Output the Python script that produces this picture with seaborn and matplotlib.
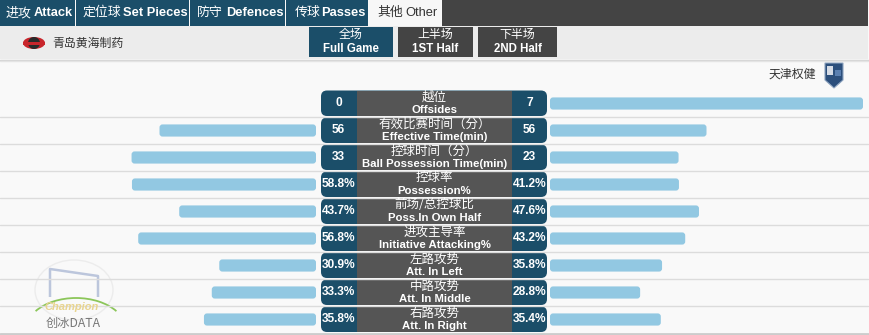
import numpy as np
import pandas as pd
import seaborn as sns
import matplotlib
matplotlib.use("Agg")
import matplotlib.pyplot as plt
from matplotlib.patches import Rectangle, FancyBboxPatch, Ellipse, Polygon, Arc

# ---------------- data ----------------
tabs_cn = ["进攻", "定位球", "防守", "传球", "其他"]
tabs_en = ["Attack", "Set Pieces", "Defences", "Passes", "Other"]
periods_cn = ["全场", "上半场", "下半场"]
periods_en = ["Full Game", "1ST Half", "2ND Half"]
home_team = "青岛黄海制药"
away_team = "天津权健"
metrics_cn = ["越位", "有效比赛时间（分）", "控球时间（分）", "控球率", "前场/总控球比",
              "进攻主导率", "左路攻势", "中路攻势", "右路攻势"]
metrics_en = ["Offsides", "Effective Time(min)", "Ball Possession Time(min)", "Possession%",
              "Poss.In Own Half", "Initiative Attacking%", "Att. In Left", "Att. In Middle",
              "Att. In Right"]
home_vals = [0, 56, 33, 58.8, 43.7, 56.8, 30.9, 33.3, 35.8]
away_vals = [7, 56, 23, 41.2, 47.6, 43.2, 35.8, 28.8, 35.4]
is_pct = [False, False, False, True, True, True, True, True, True]

# ---------------- styling ----------------
sns.set_theme(style="white")
plt.rcParams["font.family"] = ["Liberation Sans", "Noto Sans CJK SC", "DejaVu Sans"]
CJK = ["Noto Sans CJK SC", "DejaVu Sans"]
LAT = ["Liberation Sans", "Noto Sans CJK SC"]

TEAL = "#1b4e69"
DGREY = "#444444"
MGREY = "#555555"
BAR = "#92c8e2"
W, H = 870, 335

fig = plt.figure(figsize=(W / 100, H / 100), dpi=100)
fig.patch.set_facecolor("#f9f9f9")
bg = fig.add_axes([0, 0, 1, 1])
bg.set_xlim(0, W)
bg.set_ylim(H, 0)
bg.axis("off")
bg.set_zorder(0)


def rect(x0, y0, x1, y1, color, **kw):
    bg.add_patch(Rectangle((x0, y0), x1 - x0, y1 - y0, facecolor=color, edgecolor="none", **kw))


# main background
rect(0, 60, 868, 333, "#f9f9f9")
# header tabs
tab_edges = [0, 76, 190, 286, 369, 442]
tab_cn_x = [6, 83, 197, 295, 377]
tab_en_x = [34, 123, 226, 321, 405]
for i in range(5):
    active = i == 4
    rect(tab_edges[i], 0, tab_edges[i + 1] - 1, 26, "#f7f7f7" if active else TEAL)
    col = "#333333" if active else "white"
    bg.text(tab_cn_x[i], 12.5, tabs_cn[i], family=CJK, fontsize=9.3, color=col, va="center", ha="left")
    bg.text(tab_en_x[i], 12.5, tabs_en[i], family=LAT, fontsize=9.3, color=col, va="center", ha="left",
            fontweight="normal" if active else "bold")
rect(442, 0, 868, 26, DGREY)
# second row
rect(0, 26, 868, 59, "#ececec")
bg.plot([0, 868], [59.5, 59.5], color="#d4d4d4", lw=1)
btn = [(309, 393, TEAL), (398, 473, DGREY), (478, 557, DGREY)]
for (x0, x1, c), cn, en in zip(btn, periods_cn, periods_en):
    rect(x0, 27, x1, 57, c)
    xc = (x0 + x1) / 2
    bg.text(xc, 34.5, cn, family=CJK, fontsize=8.6, color="white", ha="center", va="center")
    bg.text(xc, 48.5, en, family=LAT, fontsize=8.3, color="white", ha="center", va="center", fontweight="bold")

# home logo & name
bg.add_patch(Ellipse((34, 43), 22, 12, facecolor="#c8252b", edgecolor="none"))
bg.add_patch(Ellipse((34, 43), 12, 12, facecolor="#2a2a2a", edgecolor="none"))
bg.add_patch(Rectangle((23, 41.5), 22, 3, facecolor="#c8252b", edgecolor="none"))
bg.text(52, 43, home_team, family=CJK, fontsize=8.6, color="#333333", va="center", ha="left")
# away name & logo
bg.text(816, 74, away_team, family=CJK, fontsize=8.6, color="#333333", va="center", ha="right")
bg.add_patch(Polygon([[825, 63], [843, 63], [843, 80], [834, 88], [825, 80]], closed=True,
                     facecolor="#2c4f7c", edgecolor="#8ea4c0", lw=0.8))
bg.add_patch(Rectangle((827, 66), 6, 9, facecolor="#d6dce6", edgecolor="none"))
bg.add_patch(Rectangle((835, 70), 6, 6, facecolor="#5a7fb0", edgecolor="none"))

# watermark
bg.add_patch(Ellipse((74, 290), 78, 60, facecolor="none", edgecolor="#ececec", lw=1))
bg.plot([50, 50, 98, 98], [297, 269, 276, 297], color="#bcc6dc", lw=1.8, solid_capstyle="butt")
bg.add_patch(Arc((76, 330), 100, 64, theta1=205, theta2=335, color="#8cc65a", lw=1.3))
bg.text(72, 307, "Champion", family=LAT, fontsize=8, color="#e8d48f", style="italic",
        fontweight="bold", ha="center", va="center")
bg.text(73, 323, "创冰DATA", family=["Noto Sans CJK SC"], fontsize=8.8, color="#777777",
        ha="center", va="center")

# row separators
ROW0, RH, N = 90, 27, len(metrics_en)
bg.plot([0, 868], [60.5, 60.5], color="#e4e4e4", lw=1)
for i in range(1, N):
    y = ROW0 + RH * i - 0.5
    bg.plot([0, 868], [y, y], color="#dcdcdc", lw=1)
bg.plot([0, 870], [333.5, 333.5], color="#cccccc", lw=2)


def fmt(v, pct):
    return f"{v:.1f}%" if pct else f"{int(v)}"


# center blocks
for i in range(N):
    y0 = ROW0 + RH * i + 0.5
    y1 = y0 + RH - 1.5
    yc = (y0 + y1) / 2
    bg.add_patch(FancyBboxPatch((321, y0), 226, y1 - y0, boxstyle="round,pad=0,rounding_size=6",
                                facecolor=TEAL, edgecolor="none"))
    rect(357, y0, 512, y1, MGREY)
    bg.text(338.5, yc, fmt(home_vals[i], is_pct[i]), family=LAT, fontsize=8.6, fontweight="bold",
            color="white", ha="center", va="center")
    bg.text(529.5, yc, fmt(away_vals[i], is_pct[i]), family=LAT, fontsize=8.6, fontweight="bold",
            color="white", ha="center", va="center")
    bg.text(434.5, yc - 6.3, metrics_cn[i], family=CJK, fontsize=9, color="white",
            ha="center", va="center")
    bg.text(434.5, yc + 6.3, metrics_en[i], family=LAT, fontsize=8.2, fontweight="bold",
            color="white", ha="center", va="center")

# ---------------- bars via seaborn ----------------
home_frac = [h / 100 if p else (h / (h + a) if h + a else 0) for h, a, p in zip(home_vals, away_vals, is_pct)]
away_frac = [a / 100 if p else (a / (h + a) if h + a else 0) for h, a, p in zip(home_vals, away_vals, is_pct)]
df = pd.DataFrame({"metric": metrics_en, "home": home_frac, "away": away_frac})

bar_w_px = 313
y_bottom = (H - (ROW0 + RH * N)) / H
ax_h = RH * N / H
axL = fig.add_axes([3 / W, y_bottom, bar_w_px / W, ax_h])
axR = fig.add_axes([550 / W, y_bottom, bar_w_px / W, ax_h])
for ax, col in ((axL, "home"), (axR, "away")):
    sns.barplot(data=df, x=col, y="metric", orient="h", color=BAR, width=0.45, ax=ax,
                saturation=1, order=metrics_en)
    ax.set_xlim(0, 1)
    ax.set_ylim(N - 0.5, -0.5)
    ax.axis("off")
    ax.patch.set_alpha(0)
    # round the bar corners
    r_px = 3.0
    aspect = (1 / RH) / (1 / bar_w_px)
    for p in list(ax.patches):
        x, y, w, h = p.get_x(), p.get_y(), p.get_width(), p.get_height()
        p.remove()
        if w <= 0:
            continue
        ax.add_patch(FancyBboxPatch((x, y), w, h,
                                    boxstyle=f"round,pad=0,rounding_size={r_px / bar_w_px}",
                                    mutation_aspect=aspect, facecolor=BAR, edgecolor="none"))
axL.invert_xaxis()

fig.savefig("out.png", dpi=100, facecolor=fig.get_facecolor())
